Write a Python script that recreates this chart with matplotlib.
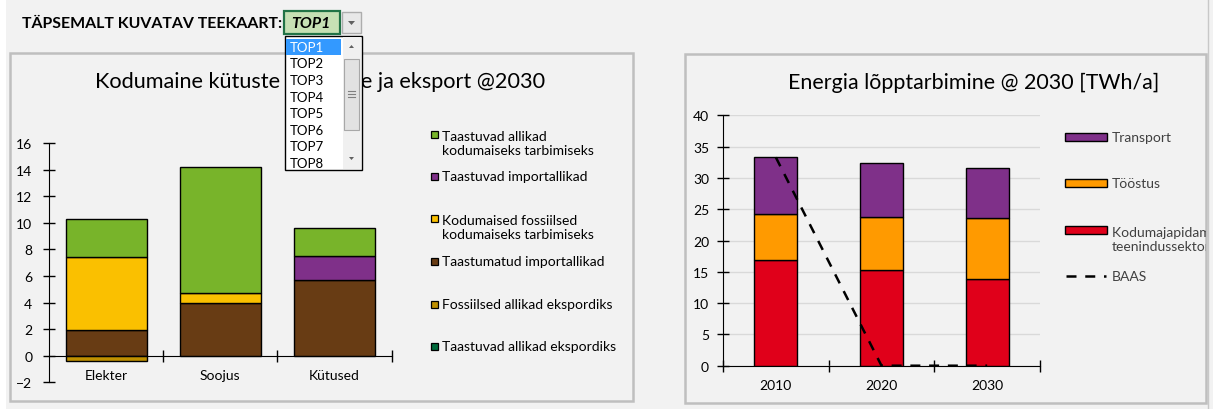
import numpy as np
import matplotlib
matplotlib.use("Agg")
import matplotlib.pyplot as plt
from matplotlib.patches import Rectangle, Polygon

# ---- data -------------------------------------------------------------
kategooriad = ["Elekter", "Soojus", "Kütused"]
taastumatud_import = [1.9, 4.0, 5.7]
kodumaised_fossiilsed = [5.5, 0.7, 0.0]
taastuvad_import = [0.0, 0.0, 1.8]
taastuvad_kodumaised = [2.9, 9.5, 2.1]
fossiilsed_eksport = [-0.4, 0.0, 0.0]
taastuvad_eksport = [0.0, 0.0, 0.0]

aastad = ["2010", "2020", "2030"]
kodumajapidamised = [16.9, 15.3, 13.8]
toostus = [7.35, 8.4, 9.75]
transport = [9.15, 8.75, 8.0]
baas = [33.3, 0.0, 0.0]

top_valikud = ["TOP1", "TOP2", "TOP3", "TOP4", "TOP5", "TOP6", "TOP7", "TOP8"]

# ---- colours ----------------------------------------------------------
GREEN = "#78B42A"
PURPLE = "#7F3089"
YELLOW = "#FAC000"
BROWN = "#683C14"
GOLD = "#BF9000"
DKGREEN = "#006B3C"
ORANGE = "#FF9A00"
RED = "#E0001A"
BG = "#F2F2F2"

W, H = 1213, 410
plt.rcParams["font.family"] = ["Lato", "DejaVu Sans"]
fig = plt.figure(figsize=(W / 100, H / 100), dpi=100, facecolor=BG)


def fx(x):
    return x / W


def fy(y):
    return 1 - y / H


def rect(x0, y0, x1, y1, **kw):
    r = Rectangle((fx(x0), fy(y1)), fx(x1) - fx(x0), fy(y0) - fy(y1),
                  transform=fig.transFigure, **kw)
    fig.patches.append(r)
    return r


def axes_px(x0, y0, x1, y1):
    return fig.add_axes([fx(x0), fy(y1), fx(x1) - fx(x0), fy(y0) - fy(y1)])


# white strip at the very left (sheet margin)
rect(0, 0, 6, H, facecolor="white", edgecolor="none", zorder=-5)

# chart panels
rect(10, 54, 633, 402, facecolor=BG, edgecolor="#BFBFBF", lw=1.8, zorder=-2)
right_panel = rect(685, 55, 1206, 404, facecolor=BG, edgecolor="#BFBFBF", lw=1.8, zorder=-2)
fig.add_artist(matplotlib.lines.Line2D([fx(1208), fx(1208)], [0, 1], color="#C8C8C8", lw=1,
                                       transform=fig.transFigure, zorder=-3))

# ---- left chart -------------------------------------------------------
ax1 = axes_px(49, 144, 391.7, 383.3)
ax1.set_facecolor("none")
x = np.arange(len(kategooriad))
bw = 0.71
ek = dict(edgecolor="black", linewidth=1.0, width=bw)
b = np.zeros(3)
for vals, col in [(taastumatud_import, BROWN), (kodumaised_fossiilsed, YELLOW),
                  (taastuvad_import, PURPLE), (taastuvad_kodumaised, GREEN)]:
    v = np.array(vals)
    m = v > 0
    ax1.bar(x[m], v[m], bottom=b[m], color=col, **ek)
    b += v
nb = np.zeros(3)
for vals, col in [(fossiilsed_eksport, GOLD), (taastuvad_eksport, DKGREEN)]:
    v = np.array(vals)
    m = v < 0
    ax1.bar(x[m], v[m], bottom=nb[m], color=col, **ek)
    nb += v

ax1.set_xlim(-0.5, 2.5)
ax1.set_ylim(-2, 16)
ax1.set_yticks(range(-2, 17, 2))
for s in ["top", "right"]:
    ax1.spines[s].set_visible(False)
ax1.spines["bottom"].set_position(("data", 0))
ax1.set_xticks([0.5, 1.5, 2.5])
ax1.set_xticklabels([])
ax1.tick_params(axis="both", direction="inout", length=8, width=1, labelsize=10, color="black")
ax1.tick_params(axis="y", pad=8)
for i, k in enumerate(kategooriad):
    ax1.text(i, -1.45, k, ha="center", va="center", fontsize=10, transform=ax1.transData)

fig.text(fx(320), fy(82), "Kodumaine kütuste tootmine ja eksport @2030",
         ha="center", va="center", fontsize=15.6)

# left legend
leg1 = [
    (GREEN, "Taastuvad allikad\nkodumaiseks tarbimiseks", 144),
    (PURPLE, "Taastuvad importallikad", 177),
    (YELLOW, "Kodumaised fossiilsed\nkodumaiseks tarbimiseks", 228),
    (BROWN, "Taastumatud importallikad", 262),
    (GOLD, "Fossiilsed allikad ekspordiks", 305),
    (DKGREEN, "Taastuvad allikad ekspordiks", 347),
]
for col, lab, yc in leg1:
    y_mark = yc - 9 if "\n" in lab else yc
    rect(431, y_mark - 3.5, 438, y_mark + 3.5, facecolor=col, edgecolor="black", lw=0.9, zorder=2)
    fig.text(fx(442), fy(yc), lab, ha="left", va="center", fontsize=10,
             linespacing=1.25)

# ---- right chart ------------------------------------------------------
ax2 = axes_px(723, 116.4, 1040, 366.7)
ax2.set_facecolor("none")
x2 = np.arange(len(aastad))
bw2 = 0.41
ek2 = dict(edgecolor="black", linewidth=1.0, width=bw2, zorder=3)
ax2.bar(x2, kodumajapidamised, color=RED, **ek2)
ax2.bar(x2, toostus, bottom=kodumajapidamised, color=ORANGE, **ek2)
ax2.bar(x2, transport, bottom=np.add(kodumajapidamised, toostus), color=PURPLE, **ek2)
ax2.plot(x2, baas, color="black", lw=1.8, ls=(0, (4, 3.5)), zorder=4, clip_on=False)

ax2.set_xlim(-0.5, 2.5)
ax2.set_ylim(0, 40)
ax2.set_yticks(range(0, 41, 5))
ax2.yaxis.grid(True, color="#D9D9D9", lw=1)
ax2.set_axisbelow(True)
for s in ["top", "right"]:
    ax2.spines[s].set_visible(False)
ax2.set_xticks([-0.5, 0.5, 1.5, 2.5])
ax2.set_xticklabels([])
ax2.tick_params(axis="both", direction="inout", length=8, width=1, labelsize=10, color="black")
ax2.tick_params(axis="y", pad=6)
for i, a in enumerate(aastad):
    ax2.text(i, -3.1, a, ha="center", va="center", fontsize=10)

fig.text(fx(974), fy(83), "Energia lõpptarbimine @ 2030 [TWh/a]",
         ha="center", va="center", fontsize=15.4)

# right legend
leg2 = [
    (PURPLE, "Transport", 138),
    (ORANGE, "Tööstus", 184),
    (RED, "Kodumajapidamised ja\nteenindussektor", 240),
]
for col, lab, yc in leg2:
    y_mark = yc - 9 if "\n" in lab else yc
    rect(1065, y_mark - 4, 1107, y_mark + 4, facecolor=col, edgecolor="black", lw=1.0, zorder=2)
    t = fig.text(fx(1112), fy(yc), lab, ha="left", va="center", fontsize=10, linespacing=1.25,
                 color="#404040")
    t.set_clip_path(right_panel)
fig.add_artist(matplotlib.lines.Line2D([fx(1066), fx(1106)], [fy(277), fy(277)], color="black",
                                       lw=1.8, ls=(0, (4, 3.5)), transform=fig.transFigure))
fig.text(fx(1112), fy(277), "BAAS", ha="left", va="center", fontsize=10, color="#404040")

# ---- header with dropdown ---------------------------------------------
fig.text(fx(22), fy(24), "TÄPSEMALT KUVATAV TEEKAART:", ha="left", va="center",
         fontsize=11.4, fontweight="bold")
rect(284, 12, 340, 35, facecolor="#C6E0B4", edgecolor="#217346", lw=1.6, zorder=5)
fig.text(fx(311), fy(24), "TOP1", ha="center", va="center", fontsize=11.4,
         fontweight="bold", fontstyle="italic", zorder=6)
rect(342, 13, 361, 34, facecolor="#E8E8E8", edgecolor="#ADADAD", lw=1, zorder=5)
fig.patches.append(Polygon([(fx(348), fy(22)), (fx(355), fy(22)), (fx(351.5), fy(26))],
                           closed=True, transform=fig.transFigure, facecolor="#606060",
                           edgecolor="none", zorder=6))

rect(285, 37, 362, 171, facecolor="white", edgecolor="black", lw=1, zorder=5)
rect(286, 39.5, 341, 55.5, facecolor="#3399FF", edgecolor="none", zorder=6)
for i, t in enumerate(top_valikud):
    fig.text(fx(290), fy(47.7 + i * 16.6), t, ha="left", va="center", fontsize=9.5,
             color="white" if i == 0 else "black", zorder=7)
# scrollbar
rect(343, 38, 361, 170, facecolor="#F0F0F0", edgecolor="none", zorder=6)
rect(344, 60, 359, 131, facecolor="#E2E2E2", edgecolor="#A8A8A8", lw=0.8, zorder=7)
for yy in [92, 95, 98]:
    fig.add_artist(matplotlib.lines.Line2D([fx(348), fx(355)], [fy(yy), fy(yy)], color="#808080",
                                           lw=0.8, transform=fig.transFigure, zorder=8))
fig.patches.append(Polygon([(fx(349), fy(49)), (fx(354), fy(49)), (fx(351.5), fy(46))],
                           closed=True, transform=fig.transFigure, facecolor="#606060",
                           edgecolor="none", zorder=7))
fig.patches.append(Polygon([(fx(349), fy(158)), (fx(354), fy(158)), (fx(351.5), fy(161))],
                           closed=True, transform=fig.transFigure, facecolor="#606060",
                           edgecolor="none", zorder=7))

fig.savefig("out.png", dpi=100, facecolor=BG)
